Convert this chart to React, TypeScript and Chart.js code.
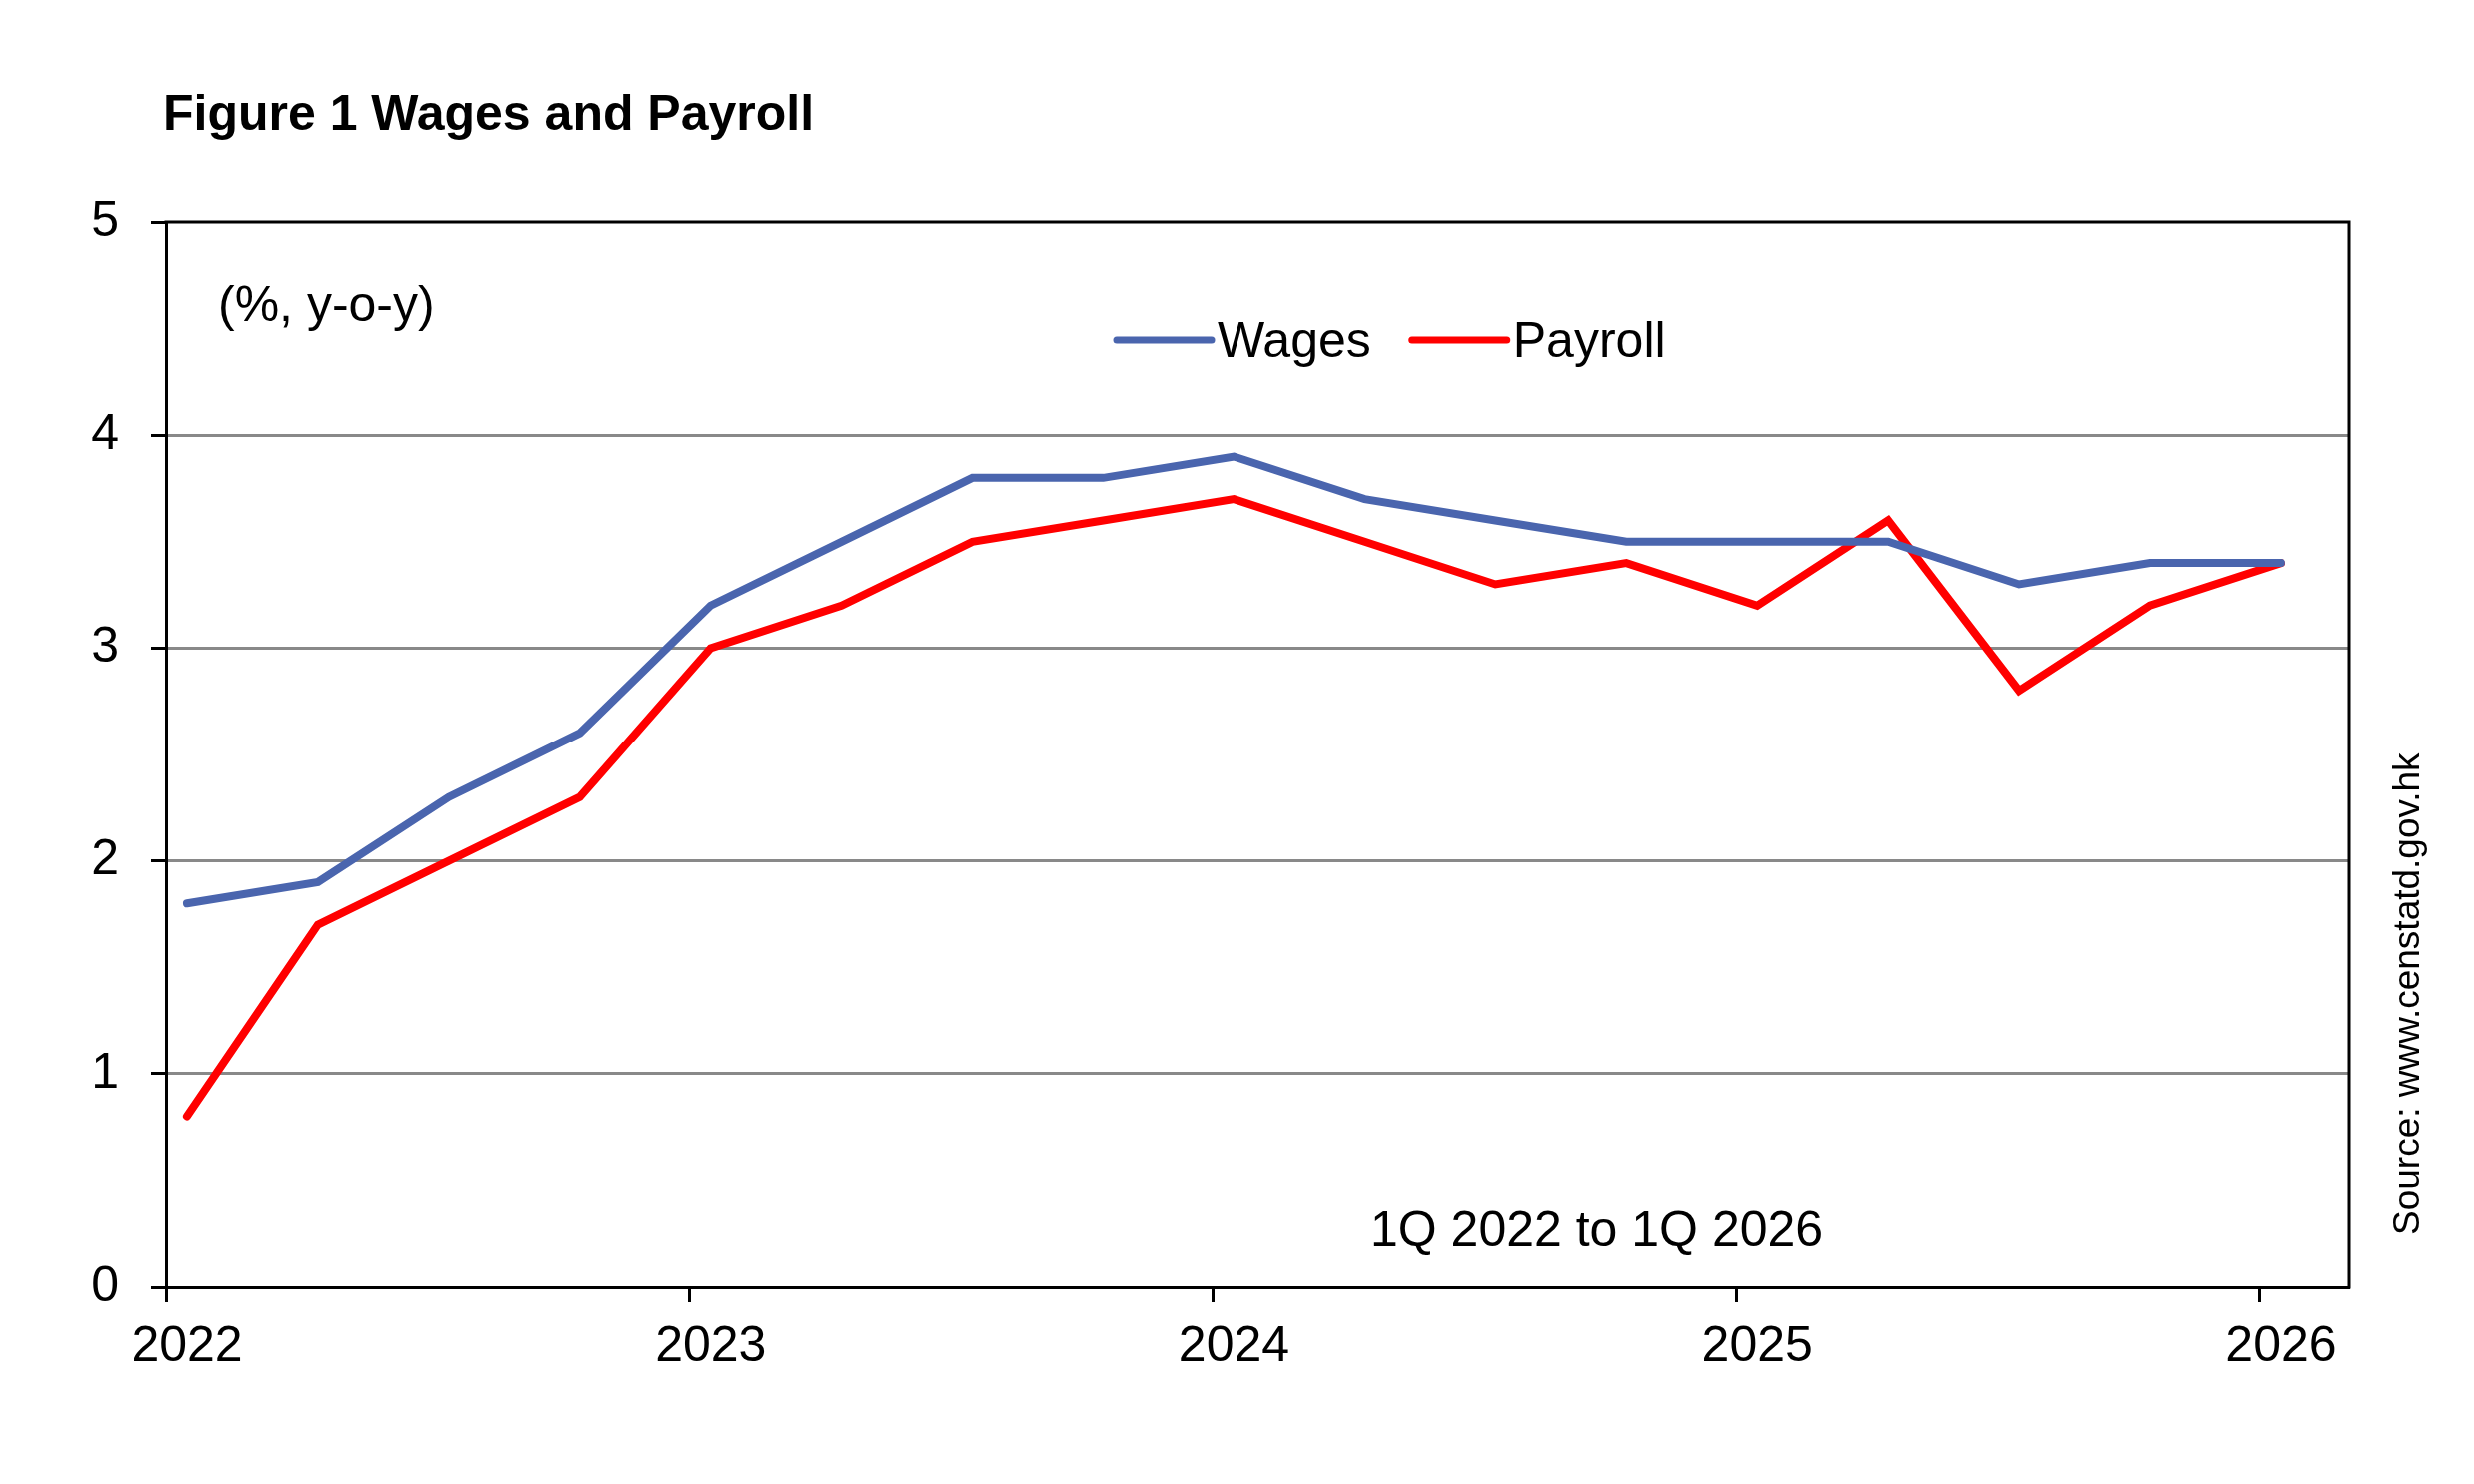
import { useEffect, useRef } from "react";
import { Chart, registerables } from "chart.js";

Chart.register(...registerables);

// 1Q 2022 .. 1Q 2026, plotted a little after the start of each quarter
const quarters = [
  "1Q 2022", "2Q 2022", "3Q 2022", "4Q 2022",
  "1Q 2023", "2Q 2023", "3Q 2023", "4Q 2023",
  "1Q 2024", "2Q 2024", "3Q 2024", "4Q 2024",
  "1Q 2025", "2Q 2025", "3Q 2025", "4Q 2025",
  "1Q 2026",
];
const quarterPos = [
  2022.04, 2022.29, 2022.54, 2022.79,
  2023.04, 2023.29, 2023.54, 2023.79,
  2024.04, 2024.29, 2024.54, 2024.79,
  2025.04, 2025.29, 2025.54, 2025.79,
  2026.04,
];
const wages = [1.8, 1.9, 2.3, 2.6, 3.2, 3.5, 3.8, 3.8, 3.9, 3.7, 3.6, 3.5, 3.5, 3.5, 3.3, 3.4, 3.4];
const payroll = [0.8, 1.7, 2.0, 2.3, 3.0, 3.2, 3.5, 3.6, 3.7, 3.5, 3.3, 3.4, 3.2, 3.6, 2.8, 3.2, 3.4];
const yearTicks = [2022, 2023, 2024, 2025, 2026];

const FONT = '"Liberation Sans", Arial, sans-serif';
const W = 2475;
const H = 1485;

const toPoints = (vals: number[]) => vals.map((v, i) => ({ x: quarterPos[i], y: v }));

// frame, legend and the text notes
const decorPlugin = {
  id: "decor",
  afterDraw(chart: any) {
    const { ctx, chartArea: a } = chart;
    ctx.save();

    ctx.strokeStyle = "#000";
    ctx.lineWidth = 3;
    ctx.beginPath();
    ctx.moveTo(a.left - 1.5, a.top);
    ctx.lineTo(a.right, a.top);
    ctx.lineTo(a.right, a.bottom + 1.5);
    ctx.stroke();

    ctx.fillStyle = "#000";
    ctx.textBaseline = "alphabetic";
    ctx.textAlign = "left";

    ctx.font = `bold 50px ${FONT}`;
    ctx.fillText("Figure 1 Wages and Payroll", 163, 130);

    ctx.font = `50px ${FONT}`;
    ctx.fillText("(%, y-o-y)", 218, 321);
    ctx.fillText(`${quarters[0]} to ${quarters[quarters.length - 1]}`, 1371, 1247);

    // legend inside the plot
    let x = 1117;
    const ly = 340;
    chart.data.datasets.forEach((ds: any) => {
      ctx.strokeStyle = ds.borderColor;
      ctx.lineWidth = 7;
      ctx.lineCap = "round";
      ctx.beginPath();
      ctx.moveTo(x, ly);
      ctx.lineTo(x + 95, ly);
      ctx.stroke();
      x += 101;
      ctx.fillStyle = "#000";
      ctx.fillText(ds.label, x, 357);
      x += ctx.measureText(ds.label).width + 41;
    });

    ctx.font = `37px ${FONT}`;
    ctx.translate(2420, 1236);
    ctx.rotate(-Math.PI / 2);
    ctx.fillText("Source: www.censtatd.gov.hk", 0, 0);

    ctx.restore();
  },
};

export default function App() {
  const canvasRef = useRef<HTMLCanvasElement | null>(null);

  useEffect(() => {
    const canvas = canvasRef.current;
    if (!canvas) return;

    const chart = new Chart(canvas, {
      type: "line",
      data: {
        datasets: [
          {
            label: "Wages",
            data: toPoints(wages),
            borderColor: "#4A65AE",
            borderWidth: 8,
            borderCapStyle: "round",
            borderJoinStyle: "miter",
            pointRadius: 0,
            tension: 0,
          },
          {
            label: "Payroll",
            data: toPoints(payroll),
            borderColor: "#FF0000",
            borderWidth: 8,
            borderCapStyle: "round",
            borderJoinStyle: "miter",
            pointRadius: 0,
            tension: 0,
          },
        ],
      },
      options: {
        responsive: false,
        animation: false,
        devicePixelRatio: 1,
        layout: { padding: { left: 0, top: 222, right: 125, bottom: 0 } },
        plugins: {
          legend: { display: false },
          tooltip: { enabled: false },
        },
        scales: {
          x: {
            type: "linear",
            min: 2022,
            max: 2026.17,
            afterFit: (s: any) => {
              s.height = 197;
            },
            afterBuildTicks: (s: any) => {
              s.ticks = yearTicks.map((v) => ({ value: v }));
            },
            ticks: {
              callback: (v: any) => String(v),
              font: { family: FONT, size: 50 },
              color: "#000",
              padding: 15,
              labelOffset: 21,
              maxRotation: 0,
              autoSkip: false,
            },
            grid: {
              drawOnChartArea: false,
              drawTicks: true,
              tickLength: 15,
              tickColor: "#000",
              tickWidth: 3,
            },
            border: { color: "#000", width: 3 },
          },
          y: {
            min: 0,
            max: 5,
            afterFit: (s: any) => {
              s.width = 166;
            },
            ticks: {
              stepSize: 1,
              font: { family: FONT, size: 50 },
              color: "#000",
              padding: 32,
            },
            grid: {
              color: (c: any) =>
                c.tick && (c.tick.value === 0 || c.tick.value === 5) ? "rgba(0,0,0,0)" : "#898989",
              lineWidth: 3,
              tickLength: 15,
              tickColor: "#000",
              tickWidth: 3,
            },
            border: { color: "#000", width: 3 },
          },
        },
      },
      plugins: [decorPlugin],
    });

    return () => chart.destroy();
  }, []);

  return (
    <div style={{ position: "fixed", left: 0, top: 0, width: W, height: H, background: "#fff" }}>
      <canvas ref={canvasRef} width={W} height={H} style={{ display: "block", width: W, height: H }} />
    </div>
  );
}
